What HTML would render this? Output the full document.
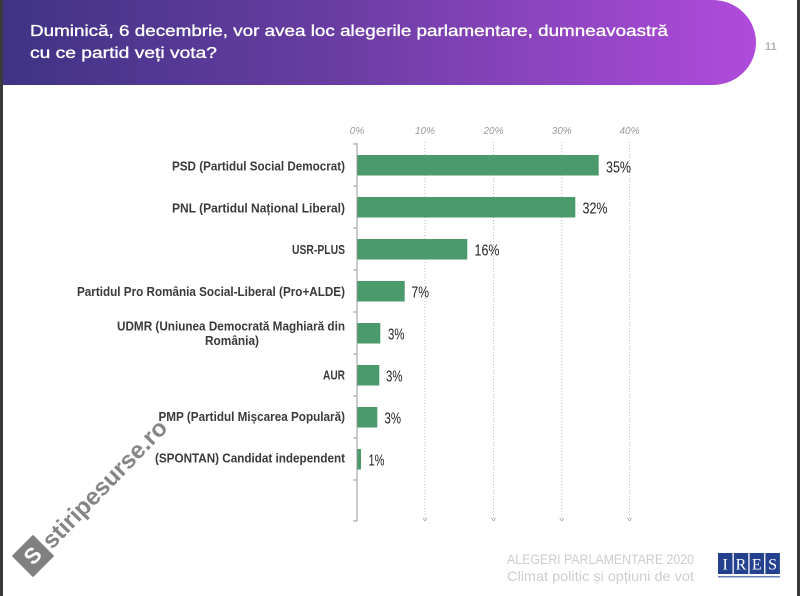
<!DOCTYPE html>
<html><head><meta charset="utf-8"><style>
html,body{margin:0;padding:0;background:#fff;}
svg{display:block;}
</style></head><body>
<svg width="800" height="596" viewBox="0 0 800 596" xmlns="http://www.w3.org/2000/svg">
<defs>
<linearGradient id="hg" x1="0" y1="0" x2="1" y2="0">
<stop offset="0" stop-color="#3e3384"/>
<stop offset="0.45" stop-color="#6a3da3"/>
<stop offset="1" stop-color="#b04bdb"/>
</linearGradient>
</defs>
<rect width="800" height="596" fill="#fff"/>
<!-- header -->
<path d="M0,0 H713 A43,42.5 0 0 1 713,85 H0 Z" fill="url(#hg)"/>
<g font-family="Liberation Sans, sans-serif" fill="#fff" stroke="#fff" stroke-width="0.35" font-size="16">
<text x="30" y="36" textLength="638" lengthAdjust="spacingAndGlyphs">Duminică, 6 decembrie, vor avea loc alegerile parlamentare, dumneavoastră</text>
<text x="30" y="58" textLength="187" lengthAdjust="spacingAndGlyphs">cu ce partid veți vota?</text>
</g>
<text x="765" y="50" font-family="Liberation Sans, sans-serif" font-size="11" font-weight="bold" fill="#b0b0b0">11</text>

<!-- borders -->
<rect x="0" y="0" width="3" height="596" fill="#3a3a3a"/>
<rect x="797" y="0" width="3" height="596" fill="#3a3a3a"/>

<!-- tick labels -->
<g font-family="Liberation Sans, sans-serif" font-size="10" font-style="italic" fill="#999" text-anchor="middle">
<text x="357" y="134">0%</text>
<text x="425" y="134">10%</text>
<text x="493.5" y="134">20%</text>
<text x="561.7" y="134">30%</text>
<text x="629.5" y="134">40%</text>
</g>

<!-- gridlines -->
<g stroke="#bdbdbd" stroke-width="1" stroke-dasharray="1,2">
<line x1="425" y1="142" x2="425" y2="521"/>
<line x1="493.5" y1="142" x2="493.5" y2="521"/>
<line x1="561.7" y1="142" x2="561.7" y2="521"/>
<line x1="629.5" y1="142" x2="629.5" y2="521"/>
</g>
<g stroke="#b0b0b0" stroke-width="1">
<line x1="423" y1="518" x2="425" y2="521"/><line x1="427" y1="518" x2="425" y2="521"/>
<line x1="491.5" y1="518" x2="493.5" y2="521"/><line x1="495.5" y1="518" x2="493.5" y2="521"/>
<line x1="559.7" y1="518" x2="561.7" y2="521"/><line x1="563.7" y1="518" x2="561.7" y2="521"/>
<line x1="627.5" y1="518" x2="629.5" y2="521"/><line x1="631.5" y1="518" x2="629.5" y2="521"/>
</g>

<!-- axis -->
<g stroke="#9a9a9a" stroke-width="1">
<line x1="357" y1="143" x2="357" y2="521"/>
<line x1="353" y1="144" x2="357" y2="144"/>
<line x1="353" y1="186" x2="357" y2="186"/>
<line x1="353" y1="228" x2="357" y2="228"/>
<line x1="353" y1="270" x2="357" y2="270"/>
<line x1="353" y1="312" x2="357" y2="312"/>
<line x1="353" y1="354" x2="357" y2="354"/>
<line x1="353" y1="396" x2="357" y2="396"/>
<line x1="353" y1="438" x2="357" y2="438"/>
<line x1="353" y1="480" x2="357" y2="480"/>
<line x1="353" y1="521" x2="357" y2="521"/>
</g>

<!-- bars -->
<g fill="#4a9a6b">
<rect x="357.5" y="155" width="241.2" height="20.5"/>
<rect x="357.5" y="197" width="217.8" height="20.5"/>
<rect x="357.5" y="239" width="109.8" height="20.5"/>
<rect x="357.5" y="281" width="47.2" height="20.5"/>
<rect x="357.5" y="323" width="22.8" height="20.5"/>
<rect x="357.5" y="365" width="21.8" height="20.5"/>
<rect x="357.5" y="407" width="19.8" height="20.5"/>
<rect x="357.5" y="449" width="3.5" height="20.5"/>
</g>

<!-- value labels -->
<g font-family="Liberation Sans, sans-serif" font-size="15.5" fill="#222">
<text x="606" y="172.3" textLength="25" lengthAdjust="spacingAndGlyphs">35%</text>
<text x="582.5" y="213.7" textLength="25" lengthAdjust="spacingAndGlyphs">32%</text>
<text x="474.5" y="255.5" textLength="25" lengthAdjust="spacingAndGlyphs">16%</text>
<text x="411.5" y="297.3" textLength="17.5" lengthAdjust="spacingAndGlyphs">7%</text>
<text x="388" y="339.3" textLength="16.5" lengthAdjust="spacingAndGlyphs">3%</text>
<text x="386" y="381.5" textLength="16.5" lengthAdjust="spacingAndGlyphs">3%</text>
<text x="384.5" y="423.3" textLength="16.5" lengthAdjust="spacingAndGlyphs">3%</text>
<text x="368.5" y="465.5" textLength="16" lengthAdjust="spacingAndGlyphs">1%</text>
</g>

<!-- category labels -->
<g font-family="Liberation Sans, sans-serif" font-size="13" font-weight="bold" fill="#3a3a3a">
<text x="172" y="170.5" textLength="173" lengthAdjust="spacingAndGlyphs">PSD (Partidul Social Democrat)</text>
<text x="172" y="212.5" textLength="173" lengthAdjust="spacingAndGlyphs">PNL (Partidul Național Liberal)</text>
<text x="292" y="254" textLength="53" lengthAdjust="spacingAndGlyphs">USR-PLUS</text>
<text x="77" y="296" textLength="268" lengthAdjust="spacingAndGlyphs">Partidul Pro România Social-Liberal (Pro+ALDE)</text>
<text x="117" y="330.5" textLength="228" lengthAdjust="spacingAndGlyphs">UDMR (Uniunea Democrată Maghiară din</text>
<text x="205" y="345" textLength="54" lengthAdjust="spacingAndGlyphs">România)</text>
<text x="323" y="379.5" textLength="22" lengthAdjust="spacingAndGlyphs">AUR</text>
<text x="158.5" y="421" textLength="186.5" lengthAdjust="spacingAndGlyphs">PMP (Partidul Mișcarea Populară)</text>
<text x="155" y="462.7" textLength="190" lengthAdjust="spacingAndGlyphs">(SPONTAN) Candidat independent</text>
</g>

<!-- watermark -->
<g opacity="0.85">
<rect x="18" y="541" width="30" height="30" fill="#6b6b6b" transform="rotate(45 33 556)"/>
<text x="33" y="563" font-family="Liberation Sans, sans-serif" font-size="22" font-weight="bold" fill="#fff" text-anchor="middle" transform="rotate(-45 33 556)">S</text>
<text x="52" y="550" font-family="Liberation Sans, sans-serif" font-size="24" font-weight="bold" fill="#707070" textLength="168" lengthAdjust="spacingAndGlyphs" transform="rotate(-46 52 550)">stiripesurse.ro</text>
</g>

<!-- footer -->
<g font-family="Liberation Sans, sans-serif" font-size="14" fill="#cdcdcd">
<text x="507" y="564" textLength="187" lengthAdjust="spacingAndGlyphs">ALEGERI PARLAMENTARE 2020</text>
<text x="507" y="581" textLength="187" lengthAdjust="spacingAndGlyphs">Climat politic și opțiuni de vot</text>
</g>
<g>
<rect x="718" y="553" width="14.5" height="21" fill="#24418f"/>
<rect x="733.8" y="553" width="14.5" height="21" fill="#24418f"/>
<rect x="749.6" y="553" width="14.5" height="21" fill="#24418f"/>
<rect x="765.4" y="553" width="14.5" height="21" fill="#24418f"/>
<g font-family="Liberation Serif, serif" font-size="16" fill="#fff" text-anchor="middle">
<text x="725.2" y="569.5">I</text>
<text x="741" y="569.5">R</text>
<text x="756.8" y="569.5">E</text>
<text x="772.6" y="569.5">S</text>
</g>
<rect x="718" y="576" width="62" height="1.5" fill="#6a7fb8"/>
</g>
</svg>
</body></html>
